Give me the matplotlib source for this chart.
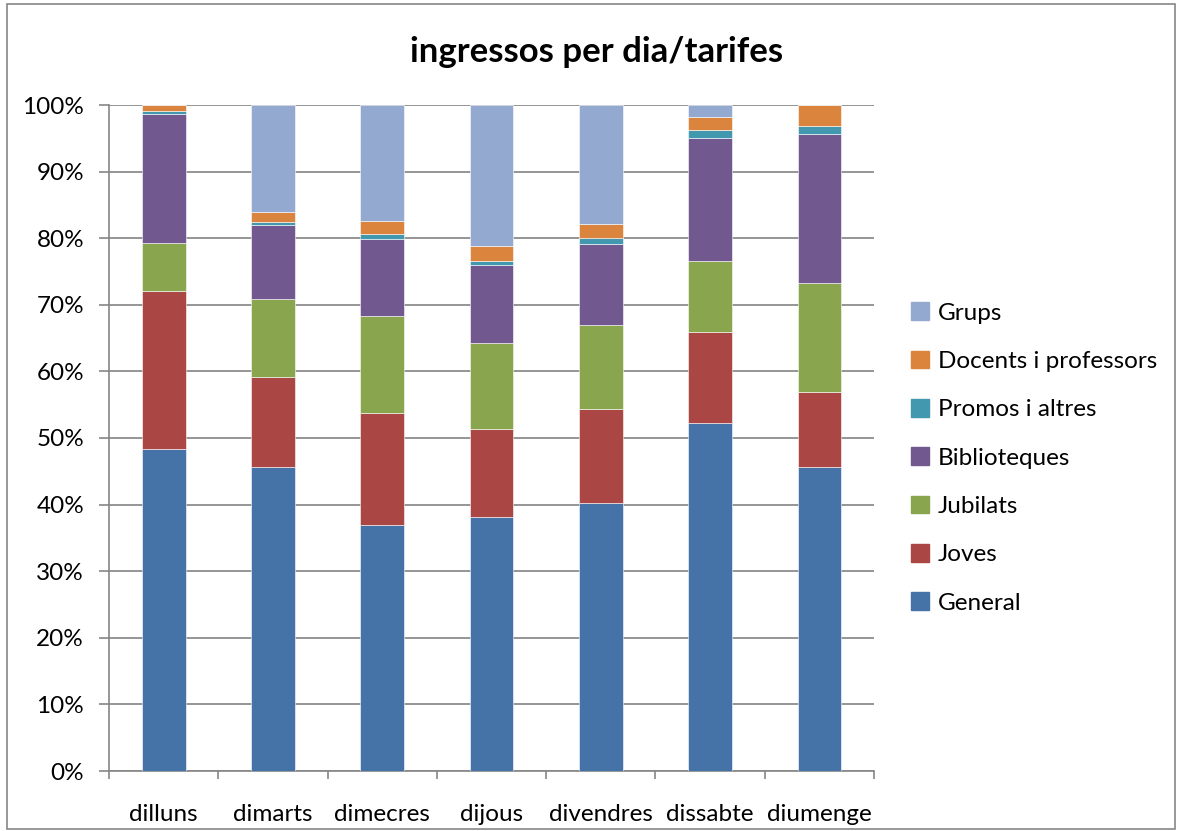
import matplotlib.pyplot as plt
import numpy as np
from matplotlib.patches import Patch, Rectangle

plt.rcParams['font.family'] = ['Lato', 'DejaVu Sans']

days = ['dilluns', 'dimarts', 'dimecres', 'dijous', 'divendres', 'dissabte', 'diumenge']

# shares in % per day, bottom to top
general = [48.3, 45.6, 36.9, 38.1, 40.2, 52.3, 45.6]
joves = [23.8, 13.6, 16.9, 13.2, 14.1, 13.6, 11.3]
jubilats = [7.2, 11.7, 14.5, 13.0, 12.7, 10.7, 16.4]
biblioteques = [19.3, 11.1, 11.6, 11.7, 12.1, 18.5, 22.3]
promos = [0.5, 0.4, 0.8, 0.6, 0.9, 1.1, 1.2]
docents = [0.9, 1.6, 1.9, 2.3, 2.1, 2.0, 3.2]
grups = [0.0, 16.0, 17.4, 21.1, 17.9, 1.8, 0.0]

series = [
    ('General', general, '#4572a7'),
    ('Joves', joves, '#aa4643'),
    ('Jubilats', jubilats, '#89a54e'),
    ('Biblioteques', biblioteques, '#71588f'),
    ('Promos i altres', promos, '#4198af'),
    ('Docents i professors', docents, '#db843d'),
    ('Grups', grups, '#93a9cf'),
]

fig = plt.figure(figsize=(11.8, 8.31), dpi=100)
ax = fig.add_axes([109 / 1180, 1 - 771 / 831, 765 / 1180, 666 / 831])

x = np.arange(len(days))
totals = np.sum([s[1] for s in series], axis=0)
bottom = np.zeros(len(days))
for name, vals, col in series:
    v = np.array(vals) / totals
    ax.bar(x, v, 0.4, bottom=bottom, color=col, edgecolor='white', linewidth=0.4, zorder=3)
    bottom += v

ax.set_xlim(-0.5, len(days) - 0.5)
ax.set_ylim(0, 1)
ax.set_yticks(np.arange(0, 1.01, 0.1))
ax.set_yticklabels([f'{int(round(t * 100))}%' for t in np.arange(0, 1.01, 0.1)], fontsize=17.5)
ax.set_xticks(x)
ax.set_xticklabels(days, fontsize=17.5)
ax.set_xticks(np.arange(-0.5, len(days)), minor=True)
ax.tick_params(axis='x', which='major', length=0, pad=24)
ax.tick_params(axis='x', which='minor', length=6, color='#868686', width=1.2)
ax.tick_params(axis='y', length=7, color='#868686', width=1.2, pad=11)
ax.grid(axis='y', color='#8c8c8c', linewidth=1.3, zorder=0)
for side in ['top', 'right']:
    ax.spines[side].set_visible(False)
for side in ['left', 'bottom']:
    ax.spines[side].set_color('#868686')
    ax.spines[side].set_linewidth(1.2)

fig.text(597 / 1180, 1 - 52 / 831, 'ingressos per dia/tarifes', ha='center', va='center',
         fontsize=25, fontweight='bold')

handles = [Patch(color=c, label=n) for n, v, c in series][::-1]
fig.legend(handles=handles, loc='center left', bbox_to_anchor=(889 / 1180, 1 - 458 / 831),
           frameon=False, fontsize=17.5, handlelength=0.75, handleheight=0.75,
           handletextpad=0.35, labelspacing=1.11)

fig.patches.append(Rectangle((0.006, 0.003), 0.99, 0.992, transform=fig.transFigure,
                             fill=False, edgecolor='#868686', linewidth=1.2))

fig.savefig('out.png', dpi=100)
